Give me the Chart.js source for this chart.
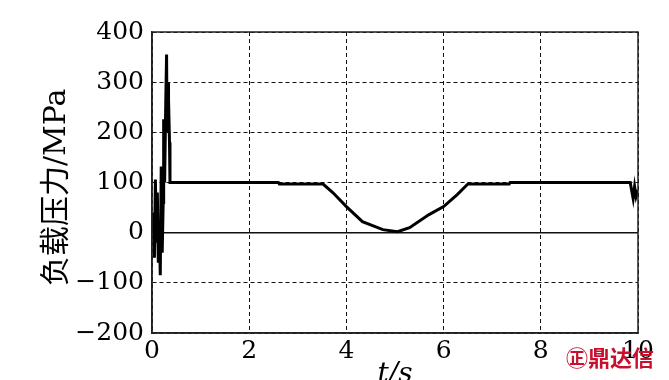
<!DOCTYPE html>
<html>
<head>
<meta charset="utf-8">
<script src="https://cdn.jsdelivr.net/npm/chart.js@4"></script>
<style>
  body { margin: 0; background: #fff; }
  #wrap { position: relative; width: 669px; height: 380px; }
  #mark { position: absolute; left: 566px; top: 340px; color: #c8102e; font: bold 22px "Noto Sans CJK SC", sans-serif; }
</style>
</head>
<body>
<div id="wrap">
  <canvas id="loadChart" width="669" height="380"></canvas>
  <div id="mark">㊣鼎达信</div>
</div>
<script>
// time (s) and load pressure (MPa)
const timeValues = [
  0, 0.03, 0.05, 0.07, 0.09, 0.11, 0.13, 0.15, 0.17, 0.19, 0.21, 0.23, 0.24, 0.26,
  0.28, 0.30, 0.31, 0.33, 0.34, 0.36, 0.37, 0.38,
  2.6, 2.62, 3.52, 3.72, 4.0, 4.33, 4.75, 5.05, 5.3, 5.7, 6.0, 6.28, 6.5,
  7.35, 7.37, 9.84, 9.9, 9.93, 9.96, 10
];
const pressureValues = [
  0, 40, -50, 106, -20, 80, -60, 20, -85, 132, -40, 60, 226, 100,
  240, 355, 200, 300, 266, 180, 100, 100,
  100, 97, 97, 80, 52, 22, 6, 2, 10, 36, 52, 76, 97,
  97, 100, 100, 68, 92, 72, 85
];
const xTicks = [0, 2, 4, 6, 8, 10];
const yTicks = [-200, -100, 0, 100, 200, 300, 400];

const serif = '"DejaVu Serif", "Noto Sans CJK SC", serif';

new Chart(document.getElementById('loadChart'), {
  type: 'line',
  data: {
    datasets: [{
      data: timeValues.map((t, i) => ({ x: t, y: pressureValues[i] })),
      borderColor: '#000',
      borderWidth: 3,
      pointRadius: 0,
      tension: 0
    }]
  },
  options: {
    responsive: false,
    animation: false,
    layout: { padding: { left: 0, right: 31, top: 32, bottom: 0 } },
    plugins: { legend: { display: false }, tooltip: { enabled: false } },
    scales: {
      x: {
        type: 'linear',
        min: 0, max: 10,
        afterBuildTicks: s => { s.ticks = xTicks.map(v => ({ value: v })); },
        afterFit: s => { s.height = 47; },
        grid: { color: '#111', lineWidth: 1, drawTicks: false },
        border: { display: true, color: '#222', width: 1.5, dash: [4, 3] },
        ticks: { color: '#000', padding: 3, font: { family: serif, size: 25 } },
        title: {
          display: true,
          text: 't/s',
          color: '#000',
          padding: { top: 0, bottom: -12 },
          font: { family: serif, size: 28, style: 'italic' }
        }
      },
      y: {
        min: -200, max: 400,
        afterBuildTicks: s => { s.ticks = yTicks.map(v => ({ value: v })); },
        afterFit: s => { s.width = 152; },
        grid: { color: '#111', lineWidth: ctx => (ctx.tick && ctx.tick.value === 0 ? 1.4 : 1), drawTicks: false },
        border: {
          display: true, color: '#222', width: 1.5,
          dash: ctx => (ctx.tick && ctx.tick.value === 0 ? [] : [4, 3])
        },
        ticks: {
          color: '#000', padding: 8,
          font: { family: serif, size: 25 },
          callback: v => String(v).replace('-', '\u2212')
        },
        title: {
          display: true,
          text: '负载压力/MPa ',
          color: '#000',
          padding: { top: 39, bottom: 0 },
          font: { family: serif, size: 30 }
        }
      }
    }
  },
  plugins: [{
    // solid frame round the plot area
    id: 'frame',
    afterDraw(chart) {
      const { ctx, chartArea: a } = chart;
      ctx.save();
      ctx.strokeStyle = '#222';
      ctx.lineWidth = 1.5;
      ctx.strokeRect(a.left, a.top, a.right - a.left, a.bottom - a.top);
      ctx.restore();
    }
  }]
});
</script>
</body>
</html>
